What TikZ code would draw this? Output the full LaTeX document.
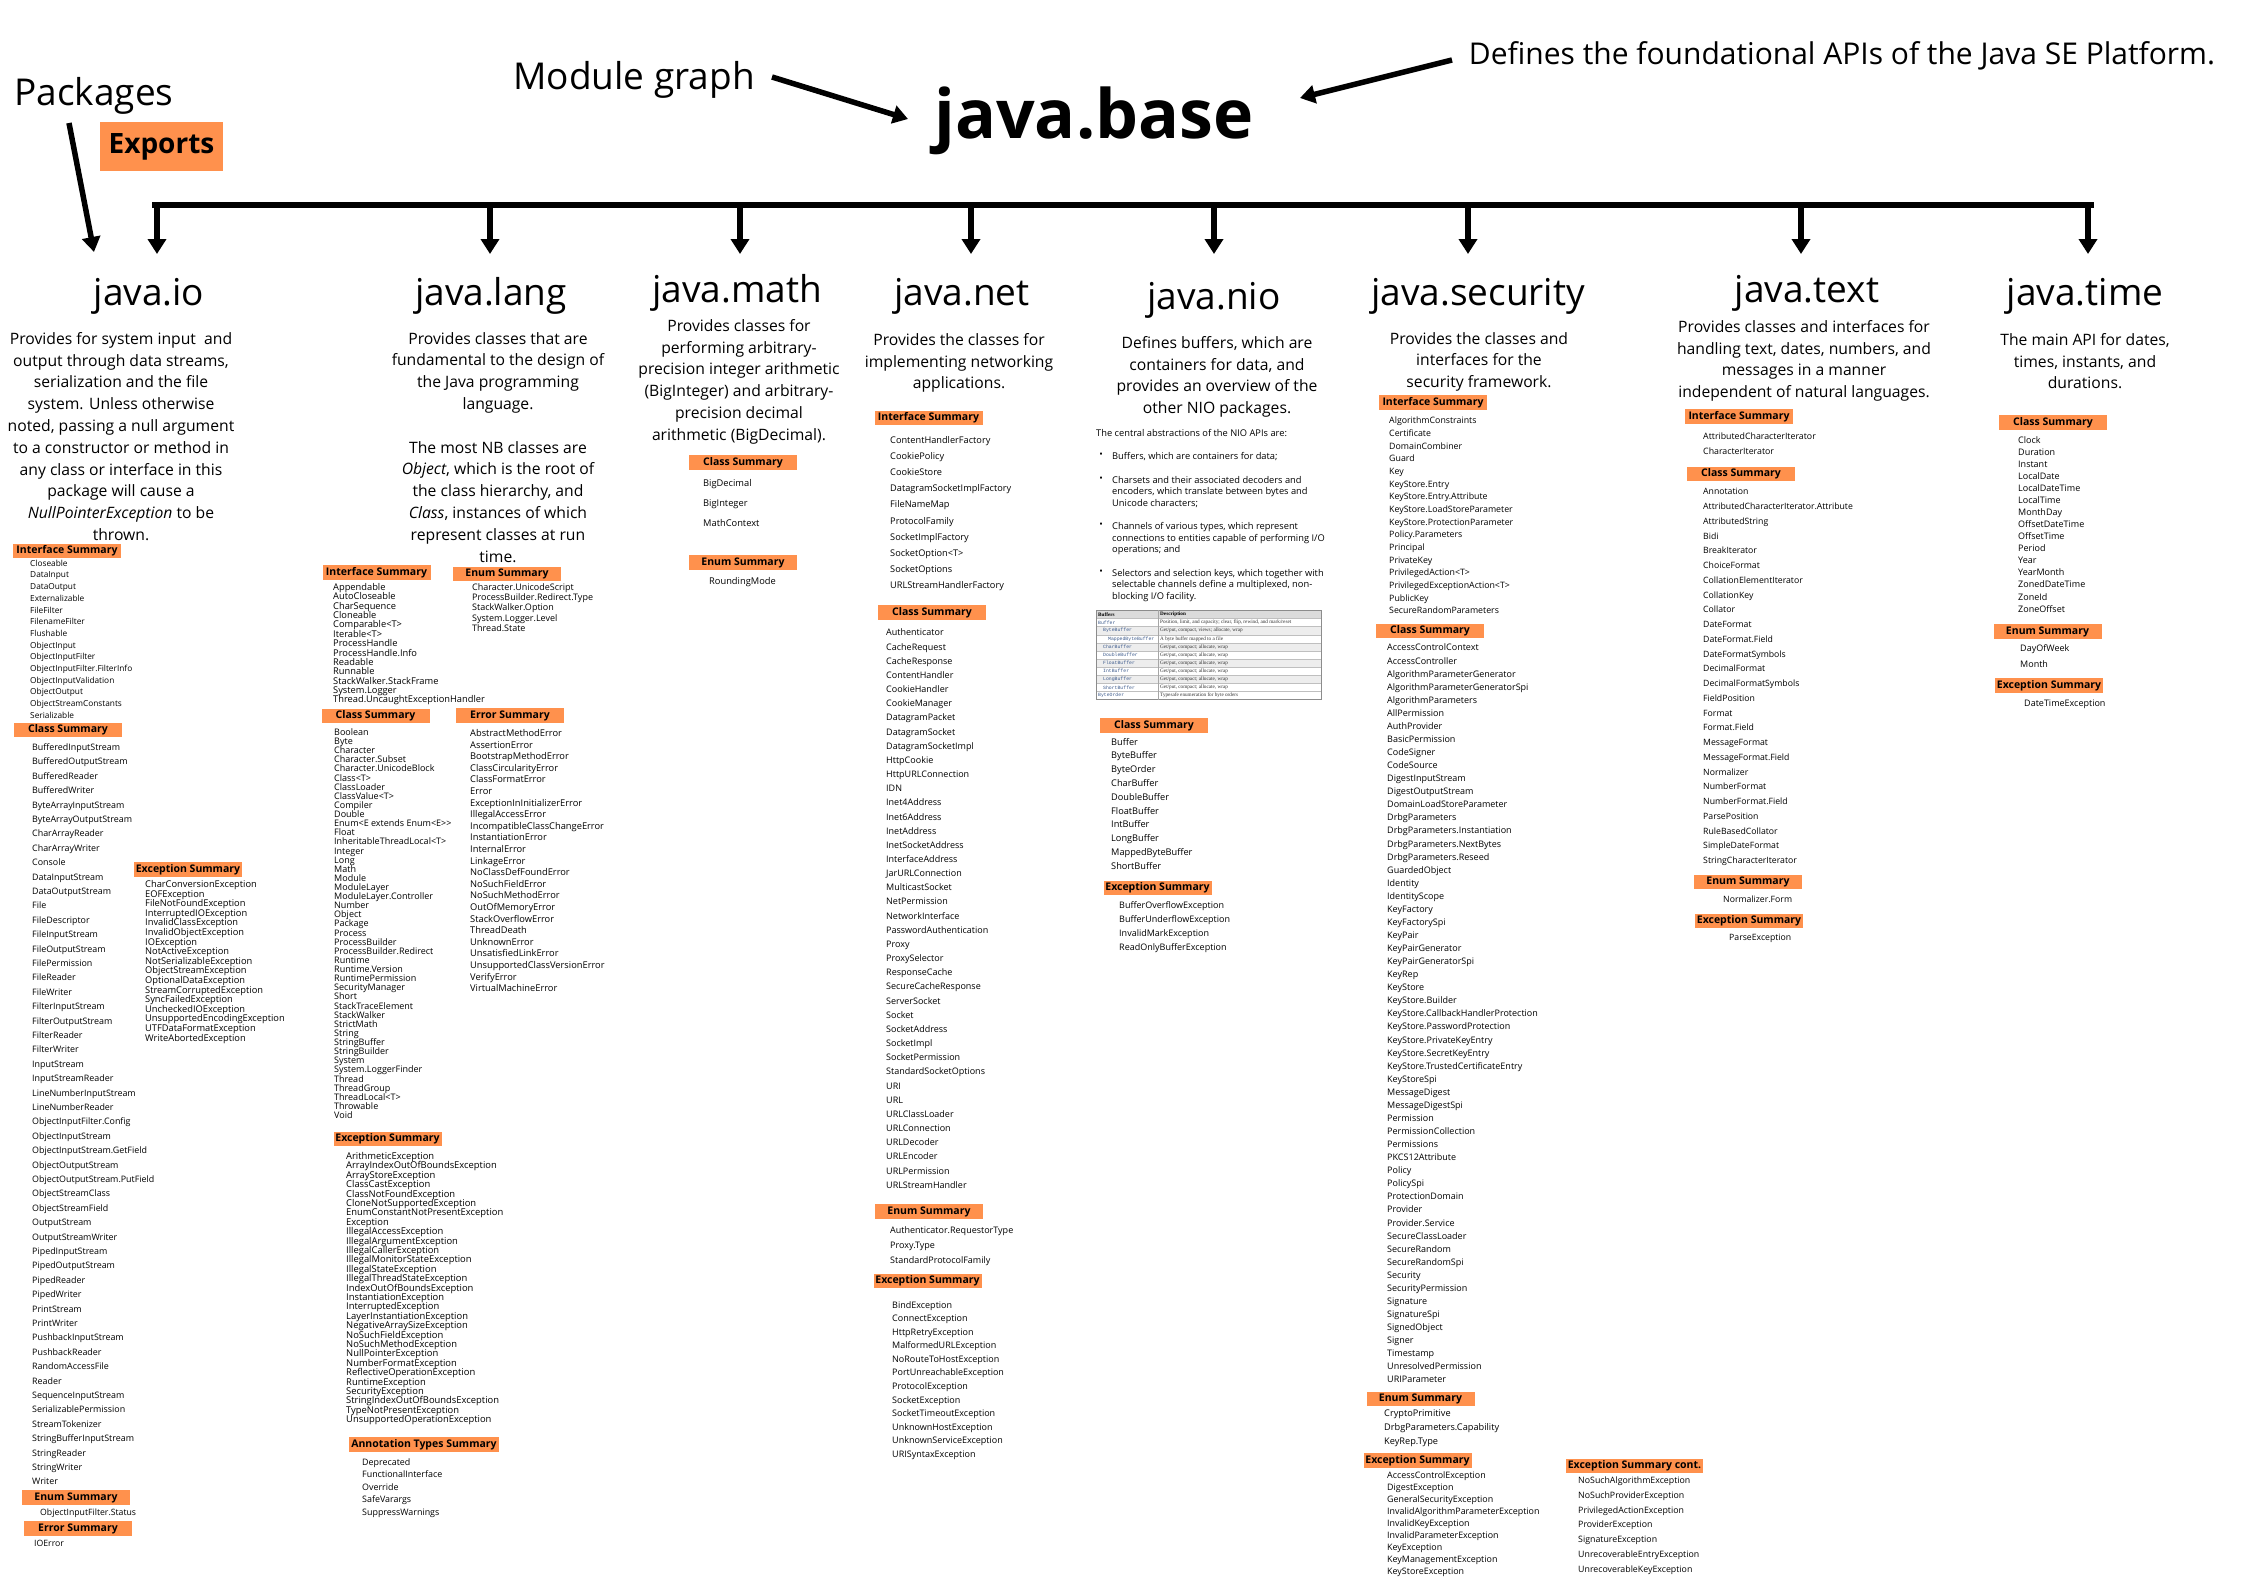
\documentclass[tikz,border=0pt]{standalone}
\usepackage{fontspec}
\setmainfont{Open Sans}
\newfontfamily\serifx{Liberation Serif}
\newfontfamily\monox{Liberation Mono}
\usetikzlibrary{arrows.meta}
\definecolor{orng}{RGB}{255,145,77}
\definecolor{tblue}{RGB}{60,90,140}
\newcommand{\setfs}[2]{\fontsize{#1}{#2}\selectfont\lineskiplimit=-50pt\relax}
\begin{document}
\begin{tikzpicture}[x=1pt,y=-1pt,
  lbl/.style={fill=orng, inner sep=0pt, minimum height=14.5pt, minimum width=108pt, font=\bfseries\setfs{10.5}{12}},
  lst/.style={anchor=north west, inner sep=0pt, align=left},
  ttl/.style={inner sep=0pt, font=\setfs{37}{40}},
  desc/.style={anchor=north, inner sep=0pt, align=center, font=\setfs{15.7}{21.8}},
  arr/.style={line width=5.5pt, -{Triangle[length=15pt,width=18pt]}},
  para/.style={anchor=north west, inner sep=0pt, align=left, font=\setfs{9.3}{11.7}},
  tcell/.style={anchor=west, inner sep=0pt},
]
\useasboundingbox (0,0) rectangle (2245,1587);
\fill[white] (0,0) rectangle (2245,1587);

% ---------- header ----------
\node[inner sep=0pt, font=\setfs{37}{40}] (packages) at (94,96) {Packages};
\node[fill=orng, inner sep=0pt, minimum width=123pt, minimum height=49pt, font=\bfseries\setfs{28}{30}] (exports) at (161.5,146.5) {Exports};
\node[inner sep=0pt, font=\setfs{37}{40}] (modgraph) at (634,80) {Module graph};
\node[inner sep=0pt, font=\bfseries\setfs{68}{70}] (base) at (1094,121) {java.base};
\node[inner sep=0pt, font=\setfs{30}{32}] (defines) at (1842,56) {Defines the foundational APIs of the Java SE Platform.};

\coordinate (pkA) at (69,123);
\coordinate (pkB) at (94,252);
\draw[arr] (pkA) -- (pkB);
\coordinate (mgA) at (772,77);
\coordinate (mgB) at (908,119);
\draw[arr] (mgA) -- (mgB);
\coordinate (dfA) at (1452,60);
\coordinate (dfB) at (1300,98);
\draw[arr] (dfA) -- (dfB);

% ---------- bar ----------
\coordinate (barL) at (154.5,205);
\coordinate (barR) at (2091,205);
\draw[line width=5.5pt, line cap=rect] (barL) -- (barR);
\foreach \n/\xx in {b1/157,b2/490,b3/740,b4/971,b5/1214,b6/1468,b7/1801,b8/2088}{
  \coordinate (\n top) at (\xx,205);
  \coordinate (\n tip) at (\xx,254);
  \draw[arr] (\n top) -- (\n tip);
}

% ---------- titles ----------
\node[ttl] (tio) at (149,296) {java.io};
\node[ttl] (tlang) at (491,296) {java.lang};
\node[ttl] (tmath) at (737,293) {java.math};
\node[ttl] (tnet) at (962,296) {java.net};
\node[ttl] (tnio) at (1214,300) {java.nio};
\node[ttl] (tsec) at (1478,296) {java.security};
\node[ttl] (ttext) at (1807,293) {java.text};
\node[ttl] (ttime) at (2085,296) {java.time};

% ---------- descriptions ----------
\node[desc] (dio) at (121,332) {Provides for system input~ and\\output through data streams,\\serialization and the file\\system. Unless otherwise\\noted, passing a null argument\\to a constructor or method in\\any class or interface in this\\package will cause a\\\textit{NullPointerException} to be\\thrown.};
\node[desc] (dlang) at (498,332) {Provides classes that are\\fundamental to the design of\\the Java programming\\language.\\[21.8pt]The most NB classes are\\\textit{Object}, which is the root of\\the class hierarchy, and\\\textit{Class}, instances of which\\represent classes at run\\time.};
\node[desc] (dmath) at (739,319) {Provides classes for\\performing arbitrary-\\precision integer arithmetic\\(BigInteger) and arbitrary-\\precision decimal\\arithmetic (BigDecimal).};
\node[desc] (dnet) at (959,333) {Provides the classes for\\implementing networking\\applications.};
\node[desc] (dnio) at (1217,336) {Defines buffers, which are\\containers for data, and\\provides an overview of the\\other NIO packages.};
\node[desc] (dsec) at (1479,332) {Provides the classes and\\interfaces for the\\security framework.};
\node[desc] (dtext) at (1804,320) {Provides classes and interfaces for\\handling text, dates, numbers, and\\messages in a manner\\independent of natural languages.};
\node[desc] (dtime) at (2085,333) {The main API for dates,\\times, instants, and\\durations.};

% ---------- java.io ----------
\node[lbl] (ioIL) at (67,551) {Interface Summary};
\node[lst, font=\setfs{8.3}{11.7}] (ioI) at (30,559.7) {Closeable\\DataInput\\DataOutput\\Externalizable\\FileFilter\\FilenameFilter\\Flushable\\ObjectInput\\ObjectInputFilter\\ObjectInputFilter.FilterInfo\\ObjectInputValidation\\ObjectOutput\\ObjectStreamConstants\\Serializable};
\node[lbl] (ioCL) at (68,730) {Class Summary};
\node[lst, font=\setfs{8.9}{14.4}] (ioC) at (32,743.4) {BufferedInputStream\\BufferedOutputStream\\BufferedReader\\BufferedWriter\\ByteArrayInputStream\\ByteArrayOutputStream\\CharArrayReader\\CharArrayWriter\\Console\\DataInputStream\\DataOutputStream\\File\\FileDescriptor\\FileInputStream\\FileOutputStream\\FilePermission\\FileReader\\FileWriter\\FilterInputStream\\FilterOutputStream\\FilterReader\\FilterWriter\\InputStream\\InputStreamReader\\LineNumberInputStream\\LineNumberReader\\ObjectInputFilter.Config\\ObjectInputStream\\ObjectInputStream.GetField\\ObjectOutputStream\\ObjectOutputStream.PutField\\ObjectStreamClass\\ObjectStreamField\\OutputStream\\OutputStreamWriter\\PipedInputStream\\PipedOutputStream\\PipedReader\\PipedWriter\\PrintStream\\PrintWriter\\PushbackInputStream\\PushbackReader\\RandomAccessFile\\Reader\\SequenceInputStream\\SerializablePermission\\StreamTokenizer\\StringBufferInputStream\\StringReader\\StringWriter\\Writer};
\node[lbl] (ioXL) at (188,869.5) {Exception Summary};
\node[lst, font=\setfs{9.3}{9.6}] (ioX) at (145,880.3) {CharConversionException\\EOFException\\FileNotFoundException\\InterruptedIOException\\InvalidClassException\\InvalidObjectException\\IOException\\NotActiveException\\NotSerializableException\\ObjectStreamException\\OptionalDataException\\StreamCorruptedException\\SyncFailedException\\UncheckedIOException\\UnsupportedEncodingException\\UTFDataFormatException\\WriteAbortedException};
\node[lbl] (ioEL) at (76,1497.5) {Enum Summary};
\node[lst, font=\setfs{8.7}{12}] (ioE) at (40,1508.5) {ObjectInputFilter.Status};
\node[lbl] (ioRL) at (78,1528.5) {Error Summary};
\node[lst, font=\setfs{8.7}{12}] (ioR) at (34,1539.5) {IOError};

% ---------- java.lang ----------
\node[lbl] (laIL) at (376.5,572.5) {Interface Summary};
\node[lst, font=\setfs{9.3}{9.35}] (laI) at (333,583.3) {Appendable\\AutoCloseable\\CharSequence\\Cloneable\\Comparable<T>\\Iterable<T>\\ProcessHandle\\ProcessHandle.Info\\Readable\\Runnable\\StackWalker.StackFrame\\System.Logger\\Thread.UncaughtExceptionHandler};
\node[lbl] (laEL) at (507,574) {Enum Summary};
\node[lst, font=\setfs{9}{10.2}] (laE) at (472,583.4) {Character.UnicodeScript\\ProcessBuilder.Redirect.Type\\StackWalker.Option\\System.Logger.Level\\Thread.State};
\node[lbl] (laCL) at (375.5,716) {Class Summary};
\node[lst, font=\setfs{9}{9.12}] (laC) at (334,728.4) {Boolean\\Byte\\Character\\Character.Subset\\Character.UnicodeBlock\\Class<T>\\ClassLoader\\ClassValue<T>\\Compiler\\Double\\Enum<E extends Enum<E>{}>\\Float\\InheritableThreadLocal<T>\\Integer\\Long\\Math\\Module\\ModuleLayer\\ModuleLayer.Controller\\Number\\Object\\Package\\Process\\ProcessBuilder\\ProcessBuilder.Redirect\\Runtime\\Runtime.Version\\RuntimePermission\\SecurityManager\\Short\\StackTraceElement\\StackWalker\\StrictMath\\String\\StringBuffer\\StringBuilder\\System\\System.LoggerFinder\\Thread\\ThreadGroup\\ThreadLocal<T>\\Throwable\\Void};
\node[lbl] (laRL) at (510,715.5) {Error Summary};
\node[lst, font=\setfs{9.3}{11.6}] (laR) at (470,729.3) {AbstractMethodError\\AssertionError\\BootstrapMethodError\\ClassCircularityError\\ClassFormatError\\Error\\ExceptionInInitializerError\\IllegalAccessError\\IncompatibleClassChangeError\\InstantiationError\\InternalError\\LinkageError\\NoClassDefFoundError\\NoSuchFieldError\\NoSuchMethodError\\OutOfMemoryError\\StackOverflowError\\ThreadDeath\\UnknownError\\UnsatisfiedLinkError\\UnsupportedClassVersionError\\VerifyError\\VirtualMachineError};
\node[lbl] (laXL) at (387.5,1139) {Exception Summary};
\node[lst, font=\setfs{9.4}{9.4}] (laX) at (346,1152.2) {ArithmeticException\\ArrayIndexOutOfBoundsException\\ArrayStoreException\\ClassCastException\\ClassNotFoundException\\CloneNotSupportedException\\EnumConstantNotPresentException\\Exception\\IllegalAccessException\\IllegalArgumentException\\IllegalCallerException\\IllegalMonitorStateException\\IllegalStateException\\IllegalThreadStateException\\IndexOutOfBoundsException\\InstantiationException\\InterruptedException\\LayerInstantiationException\\NegativeArraySizeException\\NoSuchFieldException\\NoSuchMethodException\\NullPointerException\\NumberFormatException\\ReflectiveOperationException\\RuntimeException\\SecurityException\\StringIndexOutOfBoundsException\\TypeNotPresentException\\UnsupportedOperationException};
\node[lbl, minimum width=150pt] (laAL) at (424,1444.5) {Annotation Types Summary};
\node[lst, font=\setfs{8.9}{12.5}] (laA) at (362,1458.4) {Deprecated\\FunctionalInterface\\Override\\SafeVarargs\\SuppressWarnings};

% ---------- java.math ----------
\node[lbl] (maCL) at (743,462.5) {Class Summary};
\node[lst, font=\setfs{9.3}{20}] (maC) at (703,479.3) {BigDecimal\\BigInteger\\MathContext};
\node[lbl] (maEL) at (743,562.5) {Enum Summary};
\node[lst, font=\setfs{9.3}{20}] (maE) at (709,577.3) {RoundingMode};

% ---------- java.net ----------
\node[lbl] (neIL) at (928.5,418) {Interface Summary};
\node[lst, font=\setfs{9.2}{16.2}] (neI) at (890,436) {ContentHandlerFactory\\CookiePolicy\\CookieStore\\DatagramSocketImplFactory\\FileNameMap\\ProtocolFamily\\SocketImplFactory\\SocketOption<T>\\SocketOptions\\URLStreamHandlerFactory};
\node[lbl] (neCL) at (932,612.5) {Class Summary};
\node[lst, font=\setfs{9}{14.16}] (neC) at (886,628.9) {Authenticator\\CacheRequest\\CacheResponse\\ContentHandler\\CookieHandler\\CookieManager\\DatagramPacket\\DatagramSocket\\DatagramSocketImpl\\HttpCookie\\HttpURLConnection\\IDN\\Inet4Address\\Inet6Address\\InetAddress\\InetSocketAddress\\InterfaceAddress\\JarURLConnection\\MulticastSocket\\NetPermission\\NetworkInterface\\PasswordAuthentication\\Proxy\\ProxySelector\\ResponseCache\\SecureCacheResponse\\ServerSocket\\Socket\\SocketAddress\\SocketImpl\\SocketPermission\\StandardSocketOptions\\URI\\URL\\URLClassLoader\\URLConnection\\URLDecoder\\URLEncoder\\URLPermission\\URLStreamHandler};
\node[lbl] (neEL) at (929,1211.5) {Enum Summary};
\node[lst, font=\setfs{9}{15.2}] (neE) at (890,1226) {Authenticator.RequestorType\\Proxy.Type\\StandardProtocolFamily};
\node[lbl] (neXL) at (927.5,1281) {Exception Summary};
\node[lst, font=\setfs{9}{13.55}] (neX) at (892,1301.1) {BindException\\ConnectException\\HttpRetryException\\MalformedURLException\\NoRouteToHostException\\PortUnreachableException\\ProtocolException\\SocketException\\SocketTimeoutException\\UnknownHostException\\UnknownServiceException\\URISyntaxException};

% ---------- java.nio ----------
\node[para] (nioP0) at (1096,429) {The central abstractions of the NIO APIs are:};
\node[inner sep=0pt, font=\setfs{9.3}{11.7}] (nioB1) at (1101,455.5) {•};
\node[para] (nioP1) at (1112,451.8) {Buffers, which are containers for data;};
\node[inner sep=0pt, font=\setfs{9.3}{11.7}] (nioB2) at (1101,479.6) {•};
\node[para] (nioP2) at (1112,475.9) {Charsets and their associated decoders and\\encoders, which translate between bytes and\\Unicode characters;};
\node[inner sep=0pt, font=\setfs{9.3}{11.7}] (nioB3) at (1101,525.7) {•};
\node[para] (nioP3) at (1112,522) {Channels of various types, which represent\\connections to entities capable of performing I/O\\operations; and};
\node[inner sep=0pt, font=\setfs{9.3}{11.7}] (nioB4) at (1101,572.5) {•};
\node[para] (nioP4) at (1112,568.8) {Selectors and selection keys, which together with\\selectable channels define a multiplexed, non-\\blocking I/O facility.};

% table
\def\ty{610.4}
\def\rh{8.11}
\fill[black!14] (1096,\ty) rectangle (1321,\ty+\rh);
\foreach \r in {2,4,6,8}{
  \fill[black!7] (1096,\ty+\r*\rh) rectangle (1321,\ty+\r*\rh+\rh);
}
\foreach \r in {1,...,10}{
  \draw[black!25, line width=0.4pt] (1096,\ty+\r*\rh) -- (1321,\ty+\r*\rh);
}
\draw[black!45, line width=1pt] (1096,\ty) rectangle (1321,\ty+11*\rh);
\draw[black!35, line width=0.6pt] (1158,\ty) -- (1158,\ty+11*\rh);
\node[tcell, font=\serifx\bfseries\setfs{5.2}{6}] (th1) at (1098,\ty+0.5*\rh) {Buffers};
\node[tcell, font=\serifx\bfseries\setfs{5.2}{6}] (th2) at (1160,\ty+0.5*\rh) {Description};
\foreach \r/\ind/\nm/\ds in {
  1/1098/Buffer/{Position, limit, and capacity; clear, flip, rewind, and mark/reset},
  2/1103/ByteBuffer/{Get/put, compact, views; allocate, wrap},
  3/1108/MappedByteBuffer/{A byte buffer mapped to a file},
  4/1103/CharBuffer/{Get/put, compact; allocate, wrap},
  5/1103/DoubleBuffer/{Get/put, compact; allocate, wrap},
  6/1103/FloatBuffer/{Get/put, compact; allocate, wrap},
  7/1103/IntBuffer/{Get/put, compact; allocate, wrap},
  8/1103/LongBuffer/{Get/put, compact; allocate, wrap},
  9/1103/ShortBuffer/{Get/put, compact; allocate, wrap},
  10/1098/ByteOrder/{Typesafe enumeration for byte orders}}{
  \node[tcell, text=tblue, font=\monox\setfs{4.8}{6}] (tn\r) at (\ind,\ty+\r*\rh+0.5*\rh) {\nm};
  \node[tcell, text=black!80, font=\serifx\setfs{5.2}{6}] (td\r) at (1160,\ty+\r*\rh+0.5*\rh) {\ds};
}

\node[lbl] (niCL) at (1154,725.7) {Class Summary};
\node[lst, font=\setfs{9.2}{13.8}] (niC) at (1111,737.9) {Buffer\\ByteBuffer\\ByteOrder\\CharBuffer\\DoubleBuffer\\FloatBuffer\\IntBuffer\\LongBuffer\\MappedByteBuffer\\ShortBuffer};
\node[lbl] (niXL) at (1157.5,887.8) {Exception Summary};
\node[lst, font=\setfs{9}{14}] (niX) at (1119,901.9) {BufferOverflowException\\BufferUnderflowException\\InvalidMarkException\\ReadOnlyBufferException};

% ---------- java.security ----------
\node[lbl] (seIL) at (1433,402.3) {Interface Summary};
\node[lst, font=\setfs{8.8}{12.67}] (seI) at (1389,416.9) {AlgorithmConstraints\\Certificate\\DomainCombiner\\Guard\\Key\\KeyStore.Entry\\KeyStore.Entry.Attribute\\KeyStore.LoadStoreParameter\\KeyStore.ProtectionParameter\\Policy.Parameters\\Principal\\PrivateKey\\PrivilegedAction<T>\\PrivilegedExceptionAction<T>\\PublicKey\\SecureRandomParameters};
\node[lbl] (seCL) at (1430,631) {Class Summary};
\node[lst, font=\setfs{9}{13.07}] (seC) at (1387,643.9) {AccessControlContext\\AccessController\\AlgorithmParameterGenerator\\AlgorithmParameterGeneratorSpi\\AlgorithmParameters\\AllPermission\\AuthProvider\\BasicPermission\\CodeSigner\\CodeSource\\DigestInputStream\\DigestOutputStream\\DomainLoadStoreParameter\\DrbgParameters\\DrbgParameters.Instantiation\\DrbgParameters.NextBytes\\DrbgParameters.Reseed\\GuardedObject\\Identity\\IdentityScope\\KeyFactory\\KeyFactorySpi\\KeyPair\\KeyPairGenerator\\KeyPairGeneratorSpi\\KeyRep\\KeyStore\\KeyStore.Builder\\KeyStore.CallbackHandlerProtection\\KeyStore.PasswordProtection\\KeyStore.PrivateKeyEntry\\KeyStore.SecretKeyEntry\\KeyStore.TrustedCertificateEntry\\KeyStoreSpi\\MessageDigest\\MessageDigestSpi\\Permission\\PermissionCollection\\Permissions\\PKCS12Attribute\\Policy\\PolicySpi\\ProtectionDomain\\Provider\\Provider.Service\\SecureClassLoader\\SecureRandom\\SecureRandomSpi\\Security\\SecurityPermission\\Signature\\SignatureSpi\\SignedObject\\Signer\\Timestamp\\UnresolvedPermission\\URIParameter};
\node[lbl] (seEL) at (1420.5,1399) {Enum Summary};
\node[lst, font=\setfs{9.2}{14}] (seE) at (1384,1409.9) {CryptoPrimitive\\DrbgParameters.Capability\\KeyRep.Type};
\node[lbl] (seXL) at (1417.5,1460.5) {Exception Summary};
\node[lst, font=\setfs{8.9}{12.1}] (seX) at (1387,1471.1) {AccessControlException\\DigestException\\GeneralSecurityException\\InvalidAlgorithmParameterException\\InvalidKeyException\\InvalidParameterException\\KeyException\\KeyManagementException\\KeyStoreException};
\node[lbl, minimum width=137pt] (seYL) at (1634.5,1466) {Exception Summary cont.};
\node[lst, font=\setfs{8.8}{14.7}] (seY) at (1578,1476.9) {NoSuchAlgorithmException\\NoSuchProviderException\\PrivilegedActionException\\ProviderException\\SignatureException\\UnrecoverableEntryException\\UnrecoverableKeyException};

% ---------- java.text ----------
\node[lbl] (teIL) at (1739,416.5) {Interface Summary};
\node[lst, font=\setfs{8.8}{14.4}] (teI) at (1703,433) {AttributedCharacterIterator\\CharacterIterator};
\node[lbl] (teCL) at (1741,474) {Class Summary};
\node[lst, font=\setfs{8.7}{14.74}] (teC) at (1703,488.4) {Annotation\\AttributedCharacterIterator.Attribute\\AttributedString\\Bidi\\BreakIterator\\ChoiceFormat\\CollationElementIterator\\CollationKey\\Collator\\DateFormat\\DateFormat.Field\\DateFormatSymbols\\DecimalFormat\\DecimalFormatSymbols\\FieldPosition\\Format\\Format.Field\\MessageFormat\\MessageFormat.Field\\Normalizer\\NumberFormat\\NumberFormat.Field\\ParsePosition\\RuleBasedCollator\\SimpleDateFormat\\StringCharacterIterator};
\node[lbl] (teEL) at (1748,882) {Enum Summary};
\node[lst, font=\setfs{8.7}{14}] (teE) at (1723,895.5) {Normalizer.Form};
\node[lbl] (teXL) at (1749,921) {Exception Summary};
\node[lst, font=\setfs{8.7}{14}] (teX) at (1729,933.5) {ParseException};

% ---------- java.time ----------
\node[lbl] (tmCL) at (2053,422.5) {Class Summary};
\node[lst, font=\setfs{9}{12.07}] (tmC) at (2018,436.1) {Clock\\Duration\\Instant\\LocalDate\\LocalDateTime\\LocalTime\\MonthDay\\OffsetDateTime\\OffsetTime\\Period\\Year\\YearMonth\\ZonedDateTime\\ZoneId\\ZoneOffset};
\node[lbl] (tmEL) at (2047.5,631.5) {Enum Summary};
\node[lst, font=\setfs{9}{15.7}] (tmE) at (2020,644.4) {DayOfWeek\\Month};
\node[lbl] (tmXL) at (2049,685.5) {Exception Summary};
\node[lst, font=\setfs{9}{14}] (tmX) at (2024,700.1) {DateTimeException};
\end{tikzpicture}
\end{document}
